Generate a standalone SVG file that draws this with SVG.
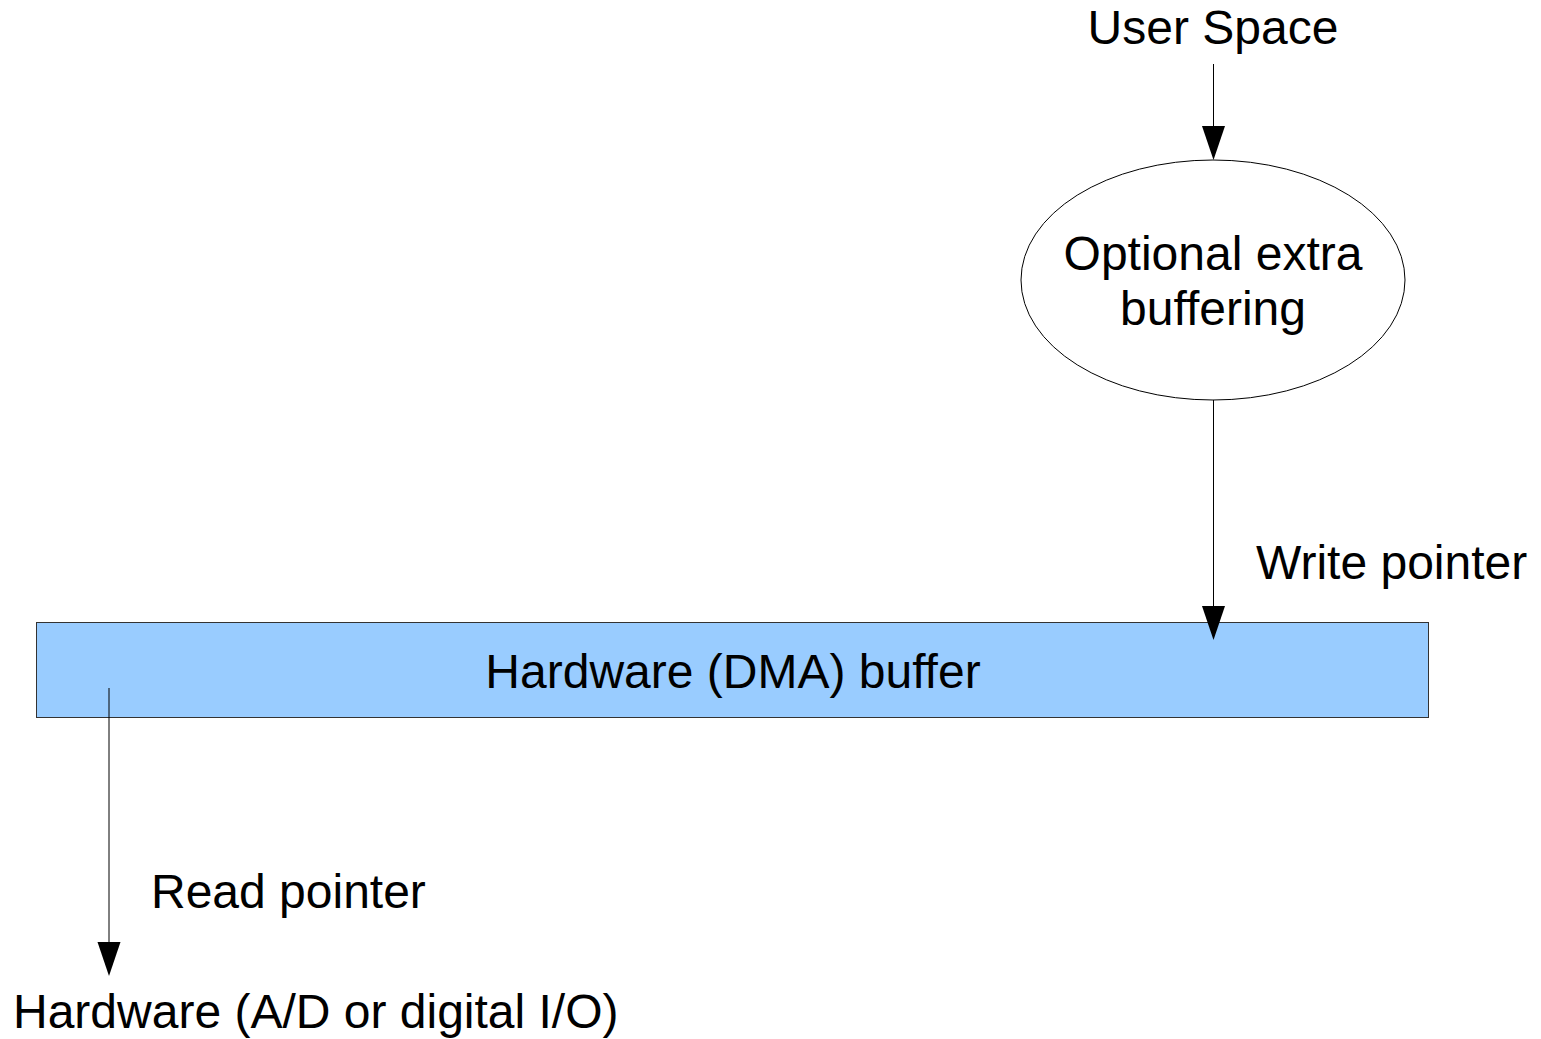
<svg xmlns="http://www.w3.org/2000/svg" width="1541" height="1039" viewBox="0 0 1541 1039">
<style>
  text { font-family: "Liberation Sans", Arial, sans-serif; font-size: 48px; fill: #000; }
  .mid { text-anchor: middle; }
  .conn { stroke: #000; stroke-width: 1; fill: none; }
  .head { fill: #000; stroke: none; }
</style>
<rect width="1541" height="1039" fill="#fff"/>
<g id="user-space">
  <text class="mid" x="1213" y="44">User Space</text>
</g>
<g id="optional-buffering">
  <ellipse cx="1213" cy="280" rx="192" ry="120" fill="#fff" stroke="#000" stroke-width="1"/>
  <text class="mid" x="1213" y="270">Optional extra</text>
  <text class="mid" x="1213" y="325">buffering</text>
</g>
<g id="dma-buffer">
  <rect x="36.5" y="622.5" width="1392" height="95" fill="#99ccff" stroke="#333" stroke-width="1"/>
  <text class="mid" x="733" y="688">Hardware (DMA) buffer</text>
</g>
<g id="write-pointer-label">
  <text x="1256" y="579">Write pointer</text>
</g>
<g id="read-pointer-label">
  <text x="151" y="908">Read pointer</text>
</g>
<g id="hardware-io">
  <text x="13" y="1028">Hardware (A/D or digital I/O)</text>
</g>
<g id="connectors">
  <line class="conn" x1="1213.5" y1="64" x2="1213.5" y2="128"/>
  <polygon class="head" points="1202,126 1225,126 1213.5,160"/>
  <line class="conn" x1="1213.5" y1="400" x2="1213.5" y2="608"/>
  <polygon class="head" points="1202,606 1225,606 1213.5,640"/>
  <line class="conn" x1="109" y1="688" x2="109" y2="944" stroke="#444"/>
  <polygon class="head" points="97.5,942 120.5,942 109,976"/>
</g>
</svg>
